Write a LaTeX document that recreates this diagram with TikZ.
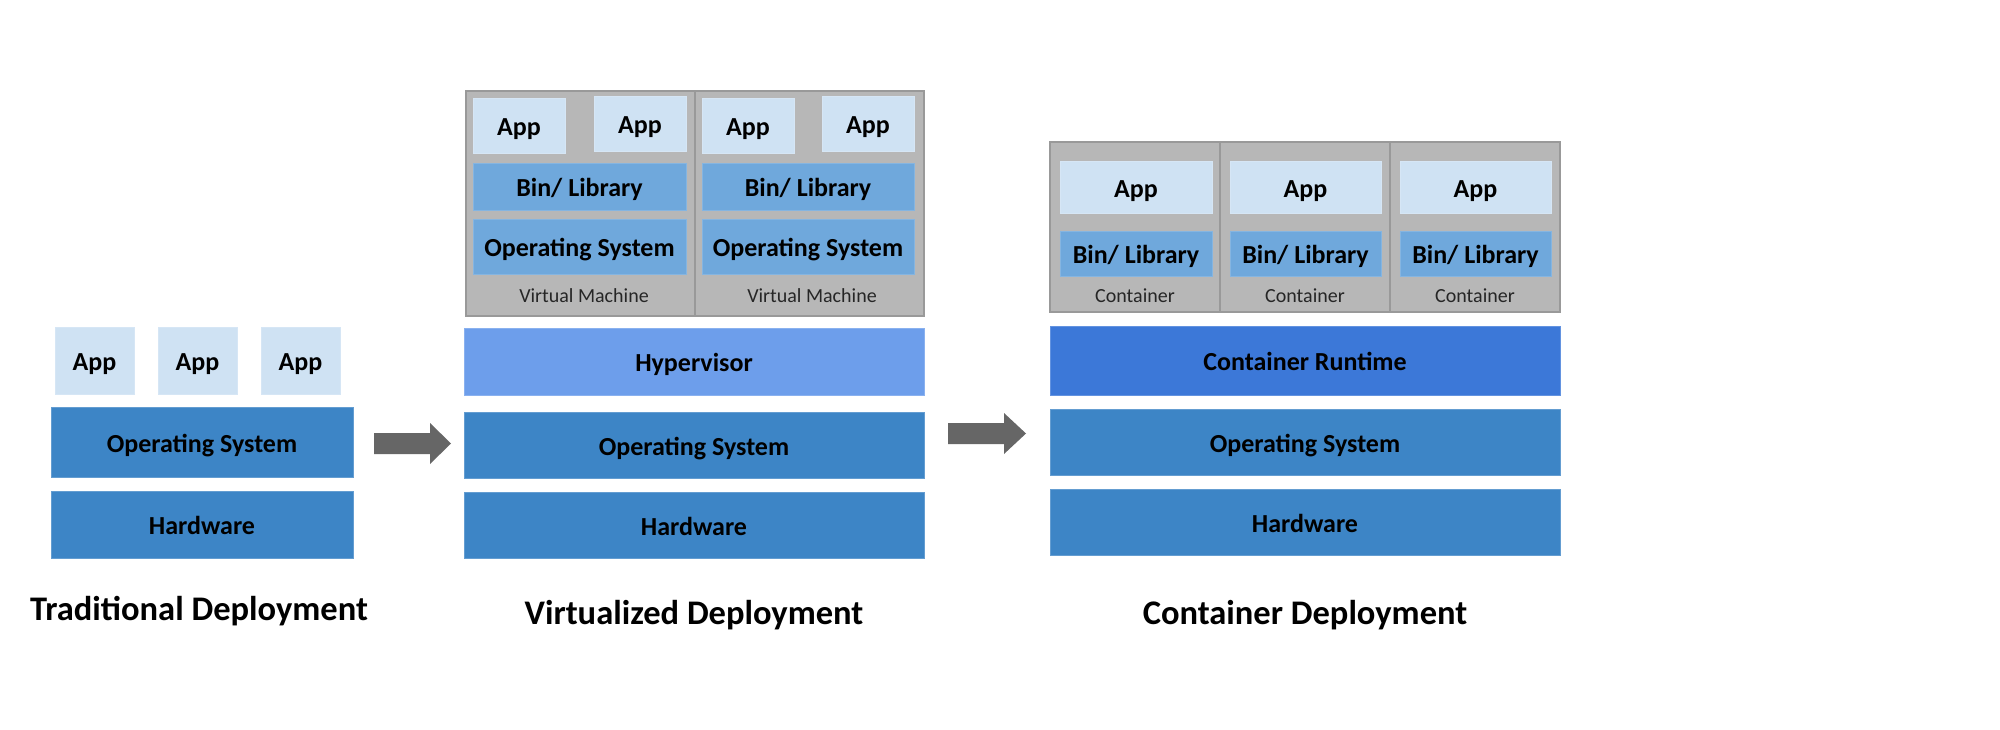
\documentclass[tikz,border=0pt]{standalone}
\usepackage{fontspec}
\setmainfont{Carlito}
\definecolor{appblue}{HTML}{CFE2F3}
\definecolor{libblue}{HTML}{6FA8DC}
\definecolor{osblue}{HTML}{3D85C6}
\definecolor{hyperblue}{HTML}{6D9EEB}
\definecolor{runblue}{HTML}{3C78D8}
\definecolor{vmgrey}{HTML}{B7B7B7}
\definecolor{vmline}{HTML}{999999}
\definecolor{arrowgrey}{HTML}{666666}
\newcommand\mybox[7]{\node[#6, minimum width={(#4-#2)*1pt}, minimum height={(#5-#3)*1pt}] (#1) at ({(#2+#4)/2},{(#3+#5)/2}) {#7};}
\tikzset{
  base box/.style={rectangle, inner sep=0pt, outer sep=0pt, line width=0.8pt, text=black},
  big/.style={font=\fontsize{26}{29}\selectfont\bfseries, text height=20.5pt, text depth=0pt},
  appbox/.style={base box, fill=appblue, draw=appblue!85!white},
  libbox/.style={base box, fill=libblue, draw=libblue!85!white},
  osbox/.style={base box, fill=osblue, draw=osblue!80!white},
  hyperbox/.style={base box, fill=hyperblue, draw=hyperblue!80!white},
  runbox/.style={base box, fill=runblue, draw=runblue!80!white},
  greybox/.style={rectangle, inner sep=0pt, outer sep=0pt, fill=vmgrey, draw=vmline, line width=1.5pt},
  smalllabel/.style={font=\fontsize{20}{23}\selectfont, text=black!85, anchor=center, inner sep=0pt},
  title/.style={font=\fontsize{34.5}{38}\selectfont\bfseries, anchor=base, inner sep=0pt},
  blockarrow/.style={fill=arrowgrey, draw=none},
}
\begin{document}
\begin{tikzpicture}[x=1pt,y=-1pt]
\useasboundingbox (0,0) rectangle (2000,729);
\fill[white] (0,0) rectangle (2000,729);

% ---------- Traditional ----------
\mybox{tapp1}{55}{327}{134}{394}{appbox,big}{App}
\mybox{tapp2}{158}{327}{237}{394}{appbox,big}{App}
\mybox{tapp3}{261}{327}{340}{394}{appbox,big}{App}
\mybox{tos}{51}{407}{353}{477}{osbox,big}{Operating System}
\mybox{thw}{51}{491}{353}{558}{osbox,big}{Hardware}
\node[title] (ttitle) at (199,620.5) {Traditional Deployment};

% arrow 1
\fill[blockarrow] (374,433) -- (430,433) -- (430,423) -- (451,443.5) -- (430,464) -- (430,454) -- (374,454) -- cycle;

% ---------- Virtualized ----------
\mybox{vm1}{466}{91}{695}{316}{greybox}{}
\mybox{vm2}{695}{91}{924}{316}{greybox}{}
\mybox{vapp1}{473}{98}{565}{153}{appbox,big}{App}
\mybox{vapp2}{594}{96}{686}{151}{appbox,big}{App}
\mybox{vapp3}{702}{98}{794}{153}{appbox,big}{App}
\mybox{vapp4}{822}{96}{914}{151}{appbox,big}{App}
\mybox{vlib1}{473}{163}{686}{210}{libbox,big}{Bin/ Library}
\mybox{vlib2}{702}{163}{914}{210}{libbox,big}{Bin/ Library}
\mybox{vgos1}{473}{219}{686}{274}{libbox,big}{Operating System}
\mybox{vgos2}{702}{219}{914}{274}{libbox,big}{Operating System}
\node[smalllabel] (vml1) at (584,295.5) {Virtual Machine};
\node[smalllabel] (vml2) at (812,295.5) {Virtual Machine};
\mybox{vhyp}{464}{328}{924}{395}{hyperbox,big}{Hypervisor}
\mybox{vos}{464}{412}{924}{478}{osbox,big}{Operating System}
\mybox{vhw}{464}{492}{924}{558}{osbox,big}{Hardware}
\node[title] (vtitle) at (694,624.5) {Virtualized Deployment};

% arrow 2
\fill[blockarrow] (948,423) -- (1004,423) -- (1004,413) -- (1026,433.5) -- (1004,454) -- (1004,444) -- (948,444) -- cycle;

% ---------- Container ----------
\mybox{c1}{1050}{142}{1220}{312}{greybox}{}
\mybox{c2}{1220}{142}{1390}{312}{greybox}{}
\mybox{c3}{1390}{142}{1560}{312}{greybox}{}
\mybox{capp1}{1060}{161}{1212}{213}{appbox,big}{App}
\mybox{capp2}{1230}{161}{1381}{213}{appbox,big}{App}
\mybox{capp3}{1400}{161}{1551}{213}{appbox,big}{App}
\mybox{clib1}{1060}{231}{1212}{276}{libbox,big}{Bin/ Library}
\mybox{clib2}{1230}{231}{1381}{276}{libbox,big}{Bin/ Library}
\mybox{clib3}{1400}{231}{1551}{276}{libbox,big}{Bin/ Library}
\node[smalllabel] (cl1) at (1135,295.5) {Container};
\node[smalllabel] (cl2) at (1305,295.5) {Container};
\node[smalllabel] (cl3) at (1475,295.5) {Container};
\mybox{crun}{1050}{326}{1560}{395}{runbox,big}{Container Runtime}
\mybox{cos}{1050}{409}{1560}{475}{osbox,big}{Operating System}
\mybox{chw}{1050}{489}{1560}{555}{osbox,big}{Hardware}
\node[title] (ctitle) at (1305,624.5) {Container Deployment};
\end{tikzpicture}
\end{document}
